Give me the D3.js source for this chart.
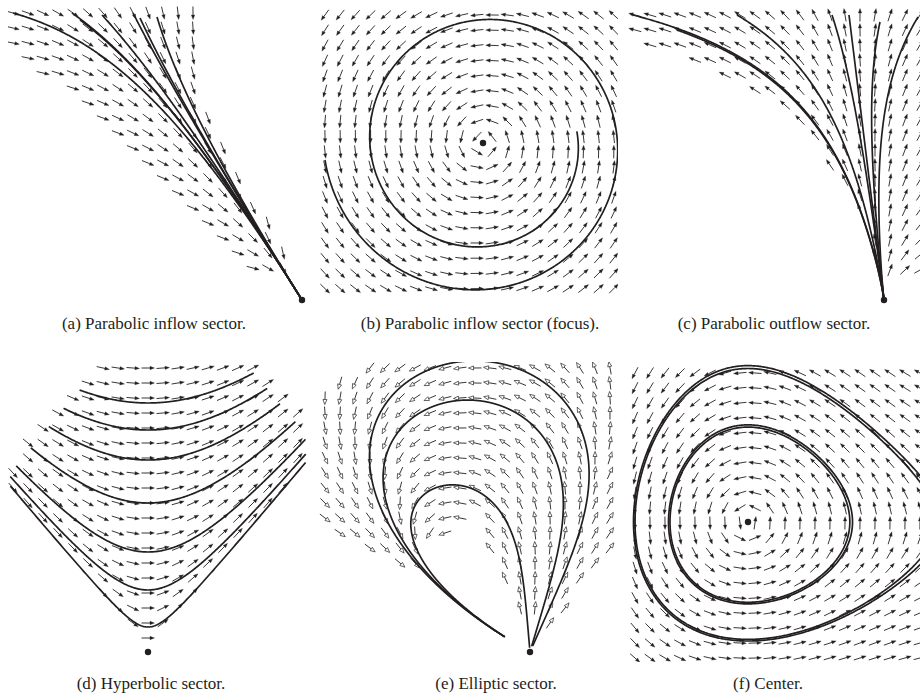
<!DOCTYPE html>
<html>
<head>
<meta charset="utf-8">
<script src="https://cdn.jsdelivr.net/npm/d3@7"></script>
<style>
  body { margin: 0; background: #fff; }
  text { font-family: "Liberation Serif", "Times New Roman", serif; font-size: 17px; fill: #231f20; }
</style>
</head>
<body>
<script>
// sizes
const width = 920;
const height = 696;
const ink = "#231f20";
const deg = Math.PI / 180;

// captions, one per panel
const captions = ["(a) Parabolic inflow sector.", "(b) Parabolic inflow sector (focus).",
                  "(c) Parabolic outflow sector.", "(d) Hyperbolic sector.",
                  "(e) Elliptic sector.", "(f) Center."];
const captionX = [154, 480, 774, 151, 496, 768];

// streamline seeds, in field units (1 unit = 100 px, critical point at 0,0)
const inflowSeeds = [[-2.89, 2.87], [-2.30, 2.87], [-2.22, 2.80], [-2.00, 2.85], [-1.69, 2.87], [-1.62, 2.82], [-1.45, 2.83]];
const focusSeeds = [[-1.58, -0.17]];
const outflowSeeds = [[-2.51, 2.85], [-2.07, 2.70], [-1.47, 2.85], [-0.52, 2.85], [-0.35, 2.85], [-0.04, 2.78], [0.34, 2.83]];
const saddleVertices = [2.49, 2.22, 1.92, 1.49, 1.00, 0.62, 0.25];
const loopSizes = [1.9, 2.64, 3.0];
const centerSeeds = [[-0.78, 0], [-0.795, 0], [-1.13, 0], [-1.145, 0]];

// panel boxes (pixels) and where the critical point sits inside them
const panels = [
  {key: "a", left: 10,  top: 6,   w: 296, h: 296, ox: 292, oy: 294, gx: 3, gy: 7, step: 15},
  {key: "b", left: 320, top: 6,   w: 296, h: 296, ox: 163, oy: 137, gx: 5, gy: 9, step: 15.2},
  {key: "c", left: 628, top: 6,   w: 292, h: 296, ox: 256, oy: 294, gx: 7, gy: 9, step: 15},
  {key: "d", left: 10,  top: 364, w: 296, h: 296, ox: 138, oy: 288, gx: 3, gy: 4, step: 15},
  {key: "e", left: 320, top: 364, w: 296, h: 296, ox: 210, oy: 288, gx: 5, gy: 4, step: 15},
  {key: "f", left: 628, top: 364, w: 292, h: 296, ox: 120, oy: 158, gx: 7, gy: 9, step: 15}
];

//helpers
function unit(v) { const n = Math.hypot(v[0], v[1]) || 1; return [v[0] / n, v[1] / n]; }

function trace(field, start, sign, keepGoing, maxSteps) {
  const pts = [start.slice()];
  let p = start.slice();
  const h = 0.01;
  for (let i = 0; i < maxSteps; i++) {
    const k1 = unit(field(p[0], p[1]));
    const k2 = unit(field(p[0] + sign * h / 2 * k1[0], p[1] + sign * h / 2 * k1[1]));
    p = [p[0] + sign * h * k2[0], p[1] + sign * h * k2[1]];
    if (!keepGoing(p)) break;
    pts.push(p);
  }
  return pts;
}

function turnLimit(total) {
  let prev = null, acc = 0;
  return p => {
    const a = Math.atan2(p[1], p[0]);
    if (prev !== null) {
      let d = a - prev;
      if (d > Math.PI) d -= 2 * Math.PI;
      if (d < -Math.PI) d += 2 * Math.PI;
      acc += d;
    }
    prev = a;
    return Math.abs(acc) < total;
  };
}

//(a) stable node
const inflowAxis = 122 * deg;
function inflowField(X, Y) {
  const c = Math.cos(inflowAxis), s = Math.sin(inflowAxis);
  const u = X * c + Y * s, w = X * s - Y * c;
  const p = 2 + 0.12 * u * u;
  return [-(u * c + p * w * s), -(u * s - p * w * c)];
}
function inflowMask(X, Y) {
  return Y > 0.25 && X + Y >= (Y > 2.2 ? -0.35 : -0.2) && (X <= -1.0 || X <= 0.13 - 0.583 * Y);
}

//(b) focus
const focusDecay = 0.055;
function focusField(X, Y) { return [-focusDecay * X - Y, X - focusDecay * Y]; }

//(c) unstable node
const outflowAxis = 97 * deg;
function outflowParts(X, Y) {
  const c = Math.cos(outflowAxis), s = Math.sin(outflowAxis);
  return [X * c + Y * s, -X * s + Y * c];
}
function outflowField(X, Y) {
  const c = Math.cos(outflowAxis), s = Math.sin(outflowAxis);
  const [u, w] = outflowParts(X, Y);
  const p = 1.5 + (2 / 9) * u * u;
  return [u * c - p * w * s, u * s + p * w * c];
}
function outflowMask(X, Y) {
  const [u, w] = outflowParts(X, Y);
  return Y > 0.2 && u > 0.1 && w / (Math.pow(u, 1.5) * Math.exp(u * u / 9)) <= 0.185;
}

//(d) saddle
const sIn = [Math.cos(130 * deg), Math.sin(130 * deg)], sOut = [Math.cos(50 * deg), Math.sin(50 * deg)];
function saddleParts(X, Y) {
  const det = sIn[0] * sOut[1] - sIn[1] * sOut[0];
  return [(X * sOut[1] - Y * sOut[0]) / det, (sIn[0] * Y - sIn[1] * X) / det];
}
function saddleField(X, Y) {
  const [s, t] = saddleParts(X, Y);
  return [-s * sIn[0] + t * sOut[0], -s * sIn[1] + t * sOut[1]];
}
function saddleMask(X, Y) {
  const [s, t] = saddleParts(X, Y);
  return s > 0.02 && t > 0.02 && s < 2.3 && t < 2.75;
}

//(e) elliptic sector: family of loops r = R*shape(psi)
const ellEnd = 150, ellSpread = 29, ellMaxSpread = 84;
function ellSpan(R) { return Math.min(ellSpread * R, ellMaxSpread); }
function ellShape(psi) {
  psi = Math.max(1e-6, Math.min(1 - 1e-6, psi));
  return Math.pow(Math.sin(Math.PI * psi), 0.3 + 0.4 * psi * psi * psi);
}
function ellPoint(R, psi) {
  const th = (ellEnd - ellSpan(R) * (1 - psi)) * deg, r = R * ellShape(psi);
  return [r * Math.cos(th), r * Math.sin(th)];
}
function ellipticField(X, Y) {
  const r = Math.hypot(X, Y), th = Math.atan2(Y, X) / deg;
  if (th >= ellEnd - 0.3) return [-X, -Y];
  if (ellEnd - th >= ellMaxSpread) return [X, Y];
  const psiOf = R => 1 - (ellEnd - th) / ellSpan(R);
  let lo = (ellEnd - th) / ellSpread + 1e-6, hi = 60;
  for (let k = 0; k < 60; k++) {
    const mid = (lo + hi) / 2;
    if (mid * ellShape(psiOf(mid)) < r) lo = mid; else hi = mid;
  }
  const R = (lo + hi) / 2, psi = psiOf(R);
  const p1 = ellPoint(R, Math.max(1e-5, psi - 1e-4)), p2 = ellPoint(R, Math.min(1 - 1e-5, psi + 1e-4));
  return [p2[0] - p1[0], p2[1] - p1[1]];
}
function ellipticMask(X, Y) {
  const r = Math.hypot(X, Y), th = Math.atan2(Y, X) / deg;
  return th >= 50 && th <= 148 && r >= 0.35 && r <= 3.3 && !(th > 112 && r < 1.45);
}

//(f) center
const centerA = 0.42, centerB = 0.28;
function centerField(X, Y) { return [-(Y - centerB * Y * Y), X - centerA * X * X]; }

const setups = {
  a: {field: inflowField, mask: inflowMask,
      lines: inBox => inflowSeeds.map(s => trace(inflowField, s, 1, p => Math.hypot(p[0], p[1]) > 0.02, 4000))},
  b: {field: focusField, mask: (X, Y) => Math.hypot(X, Y) > 0.06,
      lines: inBox => focusSeeds.map(s => trace(focusField, s, 1, turnLimit(3 * Math.PI + 0.02), 6000))},
  c: {field: outflowField, mask: outflowMask,
      lines: inBox => outflowSeeds.map(s => trace(outflowField, s, -1, p => Math.hypot(p[0], p[1]) > 0.02, 4000))},
  d: {field: saddleField, mask: saddleMask,
      lines: inBox => saddleVertices.map(h => {
        const fwd = trace(saddleField, [0, h], 1, p => inBox(p) && saddleParts(p[0], p[1])[1] < 2.65, 4000);
        const back = trace(saddleField, [0, h], -1, p => inBox(p) && saddleParts(p[0], p[1])[0] < 2.25, 4000);
        return back.reverse().concat(fwd.slice(1));
      })},
  e: {field: ellipticField, mask: ellipticMask, open: true,
      lines: inBox => loopSizes.map(R => {
        const pts = [];
        for (let i = 0; i <= 2000; i++) {
          const psi = i / 2000, p = ellPoint(R, psi);
          if (psi > 0.5 && Math.hypot(p[0], p[1]) < 0.29) break;
          pts.push(p);
        }
        return pts;
      })},
  f: {field: centerField, mask: (X, Y) => Math.hypot(X, Y) > 0.06,
      lines: inBox => centerSeeds.map(s => trace(centerField, s, 1, turnLimit(2 * Math.PI + 0.04), 8000))}
};

//Svg created
const svg = d3.select("body").append("svg")
  .attr("width", width)
  .attr("height", height)
  .style("background", "#fff");

panels.forEach((pn, idx) => {
  const setup = setups[pn.key];
  const x = d3.scaleLinear().domain([-pn.ox / 100, (pn.w - pn.ox) / 100]).range([pn.left, pn.left + pn.w]);
  const y = d3.scaleLinear().domain([-(pn.h - pn.oy) / 100, pn.oy / 100]).range([pn.top + pn.h, pn.top]);
  const inBox = p => x(p[0]) >= pn.left && x(p[0]) <= pn.left + pn.w && y(p[1]) >= pn.top && y(p[1]) <= pn.top + pn.h;

  svg.append("clipPath").attr("id", "clip-" + pn.key)
    .append("rect")
    .attr("x", pn.left - 2).attr("y", pn.top - 2)
    .attr("width", pn.w + 4).attr("height", pn.h + 4);

  const g = svg.append("g").attr("clip-path", `url(#clip-${pn.key})`);

  // arrows on a grid
  const arrows = [];
  for (let px = pn.left + pn.gx; px <= pn.left + pn.w; px += pn.step) {
    for (let py = pn.top + pn.gy; py <= pn.top + pn.h; py += pn.step) {
      const X = x.invert(px), Y = y.invert(py);
      if (!setup.mask(X, Y)) continue;
      const d = unit(setup.field(X, Y));
      arrows.push({px, py, ux: d[0], uy: -d[1]});
    }
  }
  const L = 13, hl = setup.open ? 5 : 4.5, hw = setup.open ? 2 : 1.7;
  g.append("g").selectAll("path")
    .data(arrows)
    .enter()
    .append("path")
    .attr("d", a => {
      const tx = a.px - a.ux * L / 2, ty = a.py - a.uy * L / 2;
      const hx = a.px + a.ux * L / 2, hy = a.py + a.uy * L / 2;
      return `M${tx},${ty}L${hx - a.ux * hl},${hy - a.uy * hl}`;
    })
    .attr("stroke", ink)
    .attr("stroke-width", 0.9)
    .attr("fill", "none");
  g.append("g").selectAll("path")
    .data(arrows)
    .enter()
    .append("path")
    .attr("d", a => {
      const hx = a.px + a.ux * L / 2, hy = a.py + a.uy * L / 2;
      const bx = hx - a.ux * hl, by = hy - a.uy * hl;
      return `M${hx},${hy}L${bx - a.uy * hw},${by + a.ux * hw}L${bx + a.uy * hw},${by - a.ux * hw}Z`;
    })
    .attr("fill", setup.open ? "#fff" : ink)
    .attr("stroke", ink)
    .attr("stroke-width", setup.open ? 0.7 : 0.3);

  // streamlines
  const line = d3.line().x(d => x(d[0])).y(d => y(d[1]));
  g.append("g").selectAll("path")
    .data(setup.lines(inBox))
    .enter()
    .append("path")
    .attr("d", line)
    .attr("fill", "none")
    .attr("stroke", ink)
    .attr("stroke-width", 1.7)
    .attr("stroke-linejoin", "round");

  // critical point
  svg.append("circle")
    .attr("cx", x(0)).attr("cy", y(0)).attr("r", 3.2)
    .attr("fill", ink);

  svg.append("text")
    .attr("x", captionX[idx])
    .attr("y", idx < 3 ? 329 : 689)
    .attr("text-anchor", "middle")
    .text(captions[idx]);
});
</script>
</body>
</html>
